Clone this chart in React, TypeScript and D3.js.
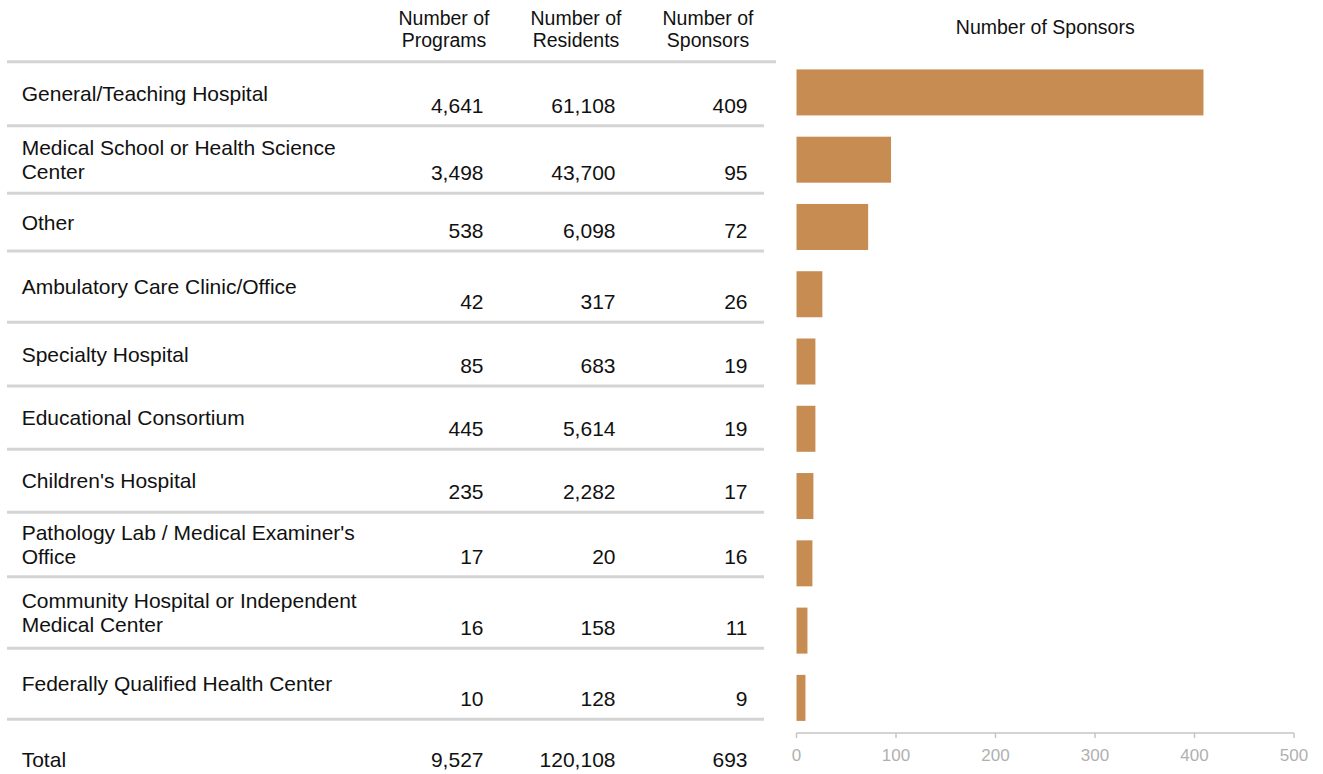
import React from "react";
import * as d3 from "d3";

const categories = [
  "General/Teaching Hospital",
  "Medical School or Health Science\nCenter",
  "Other",
  "Ambulatory Care Clinic/Office",
  "Specialty Hospital",
  "Educational Consortium",
  "Children's Hospital",
  "Pathology Lab / Medical Examiner's\nOffice",
  "Community Hospital or Independent\nMedical Center",
  "Federally Qualified Health Center",
];
const programs = [4641, 3498, 538, 42, 85, 445, 235, 17, 16, 10];
const residents = [61108, 43700, 6098, 317, 683, 5614, 2282, 20, 158, 128];
const sponsors = [409, 95, 72, 26, 19, 19, 17, 16, 11, 9];
const columnHeaders = [
  ["Number of", "Programs"],
  ["Number of", "Residents"],
  ["Number of", "Sponsors"],
];
const xTicks = [0, 100, 200, 300, 400, 500];
const chartTitle = "Number of Sponsors";
const totalLabel = "Total";

// layout (not data)
const W = 1323;
const H = 774;
const FONT = "Liberation Sans, Arimo, Arial, Helvetica, sans-serif";
const headerLineY = 61.7;
const rowBottoms = [125.7, 193.3, 251, 322.3, 386, 449.3, 512.3, 576.7, 648.3, 719.3];
const colCenters = [444, 576, 708];

export default function App() {
  const fmt = d3.format(",");
  const x = d3.scaleLinear().domain([0, 500]).range([796.5, 1294]);
  const y = d3
    .scaleBand<number>()
    .domain(d3.range(categories.length))
    .range([57.3, 733])
    .paddingInner(0.316)
    .paddingOuter(0.18);
  const cols = [programs, residents, sponsors];
  const totals = cols.map((c) => d3.sum(c));
  const axisY = 733;

  return (
    <svg
      width={W}
      height={H}
      style={{ position: "absolute", left: 0, top: 0, display: "block", background: "#fff", fontFamily: FONT }}
    >
      {/* column headers */}
      {columnHeaders.map((lines, i) => (
        <text key={"h" + i} x={colCenters[i]} textAnchor="middle" fontSize={19.5} fill="#111">
          {lines.map((l, j) => (
            <tspan key={j} x={colCenters[i]} y={25 + j * 22}>
              {l}
            </tspan>
          ))}
        </text>
      ))}
      <text x={(x(0) + x(500)) / 2} y={34.3} textAnchor="middle" fontSize={19.5} fill="#111">
        {chartTitle}
      </text>
      <line x1={7} x2={776} y1={headerLineY} y2={headerLineY} stroke="#d4d4d4" strokeWidth={3} />

      {/* rows */}
      {categories.map((cat, i) => {
        const top = i === 0 ? headerLineY : rowBottoms[i - 1];
        const bottom = rowBottoms[i];
        const center = (top + bottom) / 2;
        const lines = cat.split("\n");
        const firstBase = center - (lines.length - 1) * 12 + 7.5;
        return (
          <g key={"r" + i}>
            <text fontSize={21} fill="#111">
              {lines.map((l, j) => (
                <tspan key={j} x={21.7} y={firstBase + j * 24}>
                  {l}
                </tspan>
              ))}
            </text>
            {cols.map((c, k) => (
              <text
                key={k}
                x={colCenters[k] + 39.5}
                y={bottom - 13}
                textAnchor="end"
                fontSize={21}
                fill="#111"
              >
                {fmt(c[i])}
              </text>
            ))}
            <line x1={7} x2={764} y1={bottom} y2={bottom} stroke="#d4d4d4" strokeWidth={3} />
          </g>
        );
      })}

      {/* total row */}
      <text x={21.7} y={767} fontSize={21} fill="#111">
        {totalLabel}
      </text>
      {totals.map((t, k) => (
        <text key={"t" + k} x={colCenters[k] + 39.5} y={767} textAnchor="end" fontSize={21} fill="#111">
          {fmt(t)}
        </text>
      ))}

      {/* bars */}
      {sponsors.map((v, i) => (
        <rect
          key={"b" + i}
          x={x(0)}
          y={y(i)!}
          width={x(v) - x(0)}
          height={y.bandwidth()}
          fill="#c78c52"
        />
      ))}

      {/* axis */}
      <line x1={x(0)} x2={x(500)} y1={axisY} y2={axisY} stroke="#c4c4c4" strokeWidth={1.5} />
      {xTicks.map((t) => (
        <g key={"x" + t}>
          <line x1={x(t)} x2={x(t)} y1={axisY} y2={axisY + 5} stroke="#c4c4c4" strokeWidth={1.5} />
          <text x={x(t)} y={760.5} textAnchor="middle" fontSize={17} fill="#b0b0b0">
            {t}
          </text>
        </g>
      ))}
    </svg>
  );
}
